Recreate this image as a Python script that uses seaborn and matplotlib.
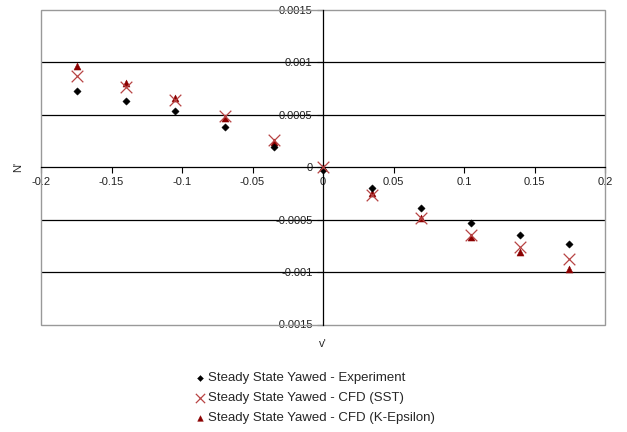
import pandas as pd
import matplotlib
matplotlib.use("Agg")
import matplotlib.pyplot as plt
import seaborn as sns
from matplotlib.patches import Rectangle
from matplotlib.ticker import MultipleLocator, FuncFormatter

# data
v = [-0.1745, -0.1396, -0.1047, -0.0698, -0.0349, 0.0,
     0.0349, 0.0698, 0.1047, 0.1396, 0.1745]
n_experiment = [0.000727, 0.000628, 0.000533, 0.000378, 0.00019, -0.00003,
                -0.000203, -0.00039, -0.000536, -0.00065, -0.000733]
n_sst = [0.000866, 0.000765, 0.000638, 0.000483, 0.000257, 0.0,
         -0.000264, -0.000486, -0.000645, -0.000765, -0.000873]
n_keps = [0.00096, 0.0008, 0.000654, 0.000467, 0.00024, 0.0,
          -0.00025, -0.000483, -0.000667, -0.00081, -0.000968]
labels = ["Steady State Yawed - Experiment",
          "Steady State Yawed - CFD (SST)",
          "Steady State Yawed - CFD (K-Epsilon)"]

sns.set_style("white")
plt.rcParams['font.family'] = ['Liberation Sans', 'DejaVu Sans']

fig = plt.figure(figsize=(6.27, 4.32), dpi=100)
ax = fig.add_axes([41 / 627, 1 - 324.5 / 432, 564 / 627, 315 / 432])

# horizontal gridlines
for yv in [-0.001, -0.0005, 0.0005, 0.001]:
    ax.axhline(yv, color="black", lw=0.9, zorder=0)

sns.scatterplot(x=v, y=n_experiment, ax=ax, marker="D", s=14, color="black",
                edgecolor="black", linewidth=0.3, label=labels[0], zorder=3)
sns.scatterplot(x=v, y=n_sst, ax=ax, marker="x", s=70, color="#B84444",
                linewidth=0.9, label=labels[1], zorder=4)
sns.scatterplot(x=v, y=n_keps, ax=ax, marker="^", s=26, color="#8B0000",
                edgecolor="#8B0000", linewidth=0.3, label=labels[2], zorder=2)

ax.set_xlim(-0.2, 0.2)
ax.set_ylim(-0.0015, 0.0015)
ax.xaxis.set_major_locator(MultipleLocator(0.05))
ax.yaxis.set_major_locator(MultipleLocator(0.0005))
fmt = FuncFormatter(lambda val, pos: "%g" % round(val, 6) if abs(val) > 1e-12 else "0")
ax.xaxis.set_major_formatter(fmt)
ax.yaxis.set_major_formatter(fmt)

# axes crossing at the origin, Excel style
ax.spines['left'].set_position('zero')
ax.spines['bottom'].set_position('zero')
ax.spines['right'].set_visible(False)
ax.spines['top'].set_visible(False)
for s in ['left', 'bottom']:
    ax.spines[s].set_color("black")
    ax.spines[s].set_linewidth(0.9)
ax.tick_params(axis='both', direction='out', length=4, width=0.8,
               labelsize=8, colors="black", labelcolor="#222222")
ax.tick_params(axis='both', which='both', bottom=True, left=True)

# plot area border
ax.add_patch(Rectangle((0, 0), 1, 1, transform=ax.transAxes, fill=False,
                       edgecolor="#999999", lw=1.0, clip_on=False, zorder=1))

fig.text(18 / 627, 1 - 167 / 432, "N'", rotation=90, fontsize=8,
         ha="center", va="center")
fig.text(323 / 627, 1 - 344 / 432, "v'", fontsize=8, ha="center", va="center")

handles, labs = ax.get_legend_handles_labels()
ax.get_legend().remove()
fig.legend(handles, labs, loc="center", bbox_to_anchor=(314 / 627, 1 - 398 / 432),
           frameon=False, fontsize=9.5, handletextpad=0.1, labelspacing=0.6,
           markerscale=0.8, handlelength=1.0)

fig.savefig("out.png", dpi=100)
